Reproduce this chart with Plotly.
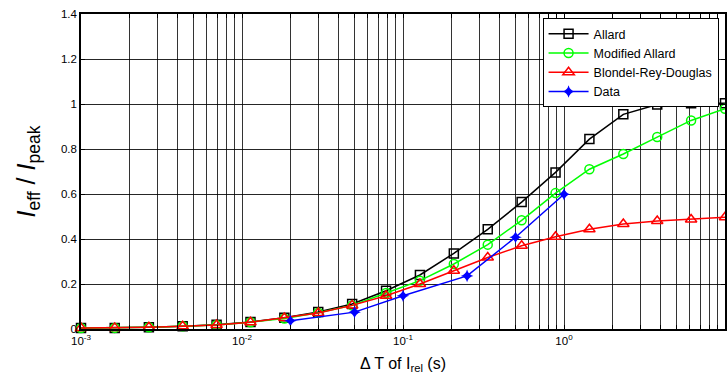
import numpy as np
import plotly.graph_objects as go

# Model sample times (s)
t_model = [0.001, 0.00162, 0.00264, 0.00428, 0.00695, 0.01129, 0.01833, 0.02976,
           0.04833, 0.07848, 0.1274, 0.2069, 0.336, 0.5456, 0.886, 1.438, 2.336,
           3.793, 6.158, 10.0]
allard = [0.004, 0.005, 0.008, 0.012, 0.019, 0.031, 0.05, 0.076, 0.111, 0.17,
          0.24, 0.336, 0.443, 0.564, 0.696, 0.844, 0.954, 0.998, 1.003, 1.003]
modified_allard = [0.004, 0.005, 0.008, 0.012, 0.018, 0.03, 0.047, 0.072, 0.105,
                   0.16, 0.215, 0.289, 0.375, 0.483, 0.604, 0.71, 0.778, 0.853,
                   0.927, 0.979]
blondel = [0.004, 0.005, 0.008, 0.012, 0.018, 0.03, 0.049, 0.071, 0.105, 0.148,
           0.2, 0.259, 0.318, 0.37, 0.41, 0.443, 0.467, 0.48, 0.487, 0.497]
t_data = [0.02, 0.05, 0.1, 0.25, 0.5, 1.0]
data = [0.037, 0.075, 0.148, 0.236, 0.408, 0.599]

y_ticks = [0, 0.2, 0.4, 0.6, 0.8, 1.0, 1.2, 1.4]
y_ticktext = ["0", "0.2", "0.4", "0.6", "0.8", "1", "1.2", "1.4"]
decades = [-3, -2, -1, 0]

x_tickvals = []
x_ticktext = []
for d in decades:
    for m in range(1, 10):
        x_tickvals.append(m * 10.0 ** d)
        x_ticktext.append(f"10<sup>{d}</sup>" if m == 1 else "")
x_tickvals.append(10.0)
x_ticktext.append("10<sup>1</sup>")

FONT = "Liberation Sans, Arial, Helvetica, sans-serif"

fig = go.Figure()
fig.add_trace(go.Scatter(x=t_model, y=allard, mode="lines+markers", name="Allard",
                         line=dict(color="black", width=1.5),
                         marker=dict(symbol="square-open", size=9, color="black",
                                     line=dict(width=1.5)), cliponaxis=False))
fig.add_trace(go.Scatter(x=t_model, y=modified_allard, mode="lines+markers",
                         name="Modified Allard",
                         line=dict(color="#00ff00", width=1.5),
                         marker=dict(symbol="circle-open", size=9, color="#00ff00",
                                     line=dict(width=1.5)), cliponaxis=False))
fig.add_trace(go.Scatter(x=t_model, y=blondel, mode="lines+markers",
                         name="Blondel-Rey-Douglas",
                         line=dict(color="#ff0000", width=1.5),
                         marker=dict(symbol="triangle-up-open", size=10, color="#ff0000",
                                     line=dict(width=1.5)), cliponaxis=False))
fig.add_trace(go.Scatter(x=t_data, y=data, mode="lines+markers", name="Data",
                         line=dict(color="#0000ff", width=1.5),
                         marker=dict(symbol="star-diamond", size=9, color="#0000ff",
                                     line=dict(width=0)), cliponaxis=False))

fig.update_layout(
    width=727, height=381,
    margin=dict(l=81, r=2, t=14, b=52),
    paper_bgcolor="white", plot_bgcolor="white",
    font=dict(family=FONT, size=11, color="black"),
    showlegend=True,
    legend=dict(x=0.99, y=0.987, xanchor="right", yanchor="top",
                bgcolor="white", bordercolor="black", borderwidth=1,
                font=dict(family=FONT, size=12.5, color="black"),
                tracegroupgap=0, itemwidth=40),
)
fig.update_xaxes(type="log", range=[-3, 1], tickvals=x_tickvals, ticktext=x_ticktext,
                 tickangle=0, automargin=False,
                 showgrid=True, gridcolor="rgba(0,0,0,0.8)", gridwidth=1,
                 showline=True, linecolor="black", linewidth=1.5, mirror="ticks",
                 ticks="inside", ticklen=4, tickcolor="black", zeroline=False,
                 tickfont=dict(family=FONT, size=11.5),
                 title=dict(text="\u0394 T of I<sub>rel</sub> (s)",
                            font=dict(family=FONT, size=16), standoff=12))
fig.update_yaxes(range=[0, 1.4], tickvals=y_ticks, ticktext=y_ticktext,
                 automargin=False,
                 showgrid=True, gridcolor="rgba(0,0,0,0.85)", gridwidth=1,
                 showline=True, linecolor="black", linewidth=1.5, mirror="ticks",
                 ticks="inside", ticklen=4, tickcolor="black", zeroline=False,
                 tickfont=dict(family=FONT, size=11.5),
                 title=dict(text="<i>I</i><sub>eff</sub> / <i>I</i><sub>peak</sub>",
                            font=dict(family=FONT, size=25), standoff=18))

fig.write_html("out.html")
